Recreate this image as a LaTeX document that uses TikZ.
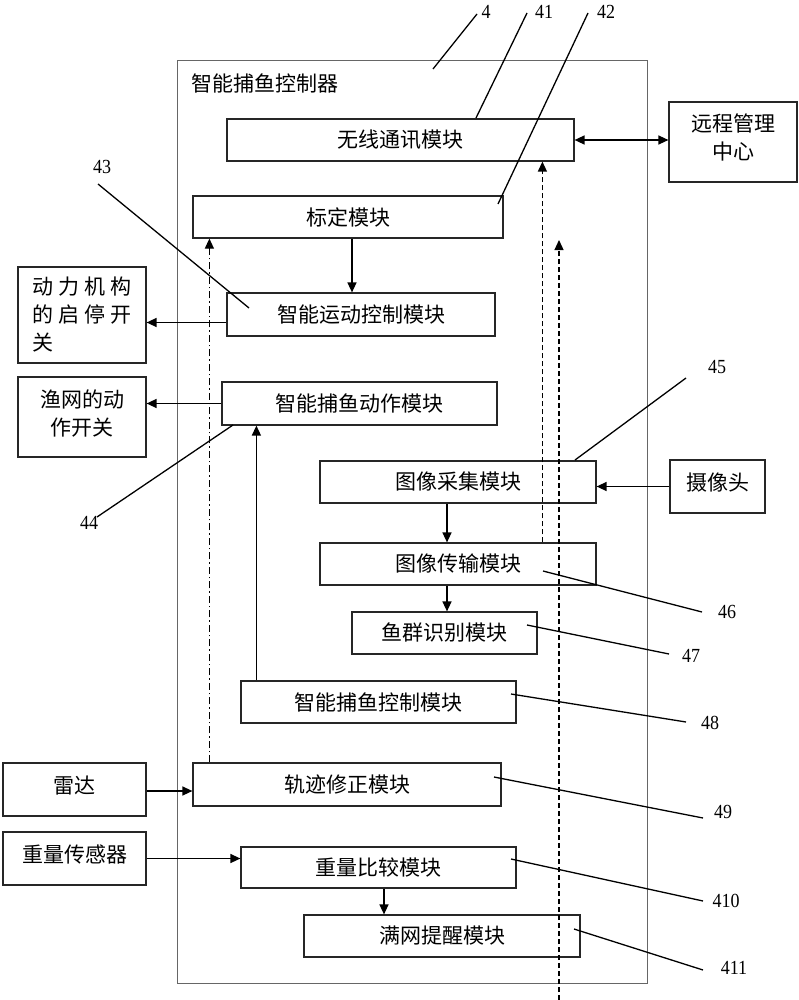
\documentclass[tikz,border=0pt]{standalone}
\usepackage{fontspec}
\setmainfont{Liberation Serif}
\newfontfamily\cjk{Noto Sans CJK SC}
\newfontfamily\numfont[FakeStretch=0.9]{Liberation Serif}
\usetikzlibrary{arrows.meta}
\begin{document}
\begin{tikzpicture}[x=1pt,y=-1pt,
  box/.style={draw=black!85, line width=1.2pt, inner sep=0pt, font=\cjk\fontsize{21}{28}\selectfont, align=center},
  ctrlbox/.style={draw=black!60, line width=1pt, inner sep=0pt},
  arr/.style={line width=1.4pt, -{Triangle[length=10pt,width=9pt]}},
  darr/.style={line width=1.4pt, {Triangle[length=10pt,width=9pt]}-{Triangle[length=10pt,width=9pt]}},
  lead/.style={line width=1.3pt},
  num/.style={font=\numfont\fontsize{20}{22}\selectfont, inner sep=0pt},
  dsh/.style={line width=1.2pt, dash pattern=on 5pt off 3pt},
  dshdot/.style={line width=1.2pt, dash pattern=on 7pt off 3pt on 1.5pt off 3pt},
]
\useasboundingbox (0,0) rectangle (799,1000);

% controller frame
\node[ctrlbox, minimum width=470pt, minimum height=922pt] (ctrl) at (412,522) {};
\node[anchor=west, inner sep=0pt, font=\cjk\fontsize{21}{28}\selectfont] (title) at (191,83) {智能捕鱼控制器};

% boxes
\node[box, minimum width=347pt, minimum height=42pt] (wx) at (400.5,140) {无线通讯模块};
\node[box, minimum width=128pt, minimum height=80pt, text depth=11.5pt] (rc) at (733,142) {远程管理\\中心};
\node[box, minimum width=310pt, minimum height=42pt] (bd) at (348,217) {标定模块};
\node[box, minimum width=268pt, minimum height=43pt] (yd) at (361,314.5) {智能运动控制模块};
\node[box, minimum width=128pt, minimum height=96pt, align=left] (dl) at (82,315)
  {动\hspace{5pt}力\hspace{5pt}机\hspace{5pt}构\\的\hspace{5pt}启\hspace{5pt}停\hspace{5pt}开\\关};
\node[box, minimum width=128pt, minimum height=80pt, text depth=9.5pt] (yw) at (82,417) {渔网的动\\作开关};
\node[box, minimum width=275pt, minimum height=43pt] (dz) at (359.5,403.5) {智能捕鱼动作模块};
\node[box, minimum width=276pt, minimum height=42pt] (cj) at (458,482) {图像采集模块};
\node[box, minimum width=95pt, minimum height=53pt, text depth=10pt] (sxt) at (717.5,486.5) {摄像头};
\node[box, minimum width=276pt, minimum height=42pt] (cs) at (458,564) {图像传输模块};
\node[box, minimum width=185pt, minimum height=42pt] (sb) at (444.5,633) {鱼群识别模块};
\node[box, minimum width=275pt, minimum height=42pt] (kz) at (378.5,702) {智能捕鱼控制模块};
\node[box, minimum width=143pt, minimum height=53pt, text depth=10pt] (ld) at (74.5,789.5) {雷达};
\node[box, minimum width=308pt, minimum height=43pt] (gj) at (347,784.5) {轨迹修正模块};
\node[box, minimum width=143pt, minimum height=53pt, text depth=9pt] (zl) at (74.5,858.5) {重量传感器};
\node[box, minimum width=275pt, minimum height=41pt] (bj) at (378.5,867.5) {重量比较模块};
\node[box, minimum width=276pt, minimum height=42pt] (mw) at (442,936) {满网提醒模块};

% solid connectors
\draw[darr] (wx.east) -- (wx.east -| rc.west);
\draw[arr] ([xshift=4pt]bd.south) -- ([xshift=4pt]bd.south |- yd.north);
\draw[arr] ([yshift=-8pt]yd.west) -- ([yshift=-8pt]yd.west -| dl.east);
\draw[arr] (dz.west) -- (dz.west -| yw.east);
\draw[arr] ([xshift=16pt]kz.north west) -- ([xshift=16pt]kz.north west |- dz.south);
\draw[arr] (sxt.west) -- (sxt.west -| cj.east);
\draw[arr] ([xshift=-11pt]cj.south) -- ([xshift=-11pt]cj.south |- cs.north);
\draw[arr] ([xshift=-11pt]cs.south) -- ([xshift=-11pt]cs.south |- sb.north);
\draw[arr] ([yshift=-1.5pt]ld.east) -- ([yshift=-1.5pt]ld.east -| gj.west);
\draw[arr] (zl.east) -- (zl.east -| bj.west);
\draw[arr] ([xshift=5.5pt]bj.south) -- ([xshift=5.5pt]bj.south |- mw.north);

% dashed connectors
\draw[dshdot, -{Triangle[length=10pt,width=9pt]}] ([xshift=17pt]gj.north west) -- ([xshift=17pt]gj.north west |- bd.south);
\draw[dsh, -{Triangle[length=10pt,width=9pt]}] ([xshift=223pt]cs.north west) -- ([xshift=223pt]cs.north west |- wx.south);
\coordinate (dtb) at (559,1000);
\coordinate (dtt) at (559,240);
\draw[dsh, -{Triangle[length=10pt,width=9pt]}] (dtb) -- (dtt);

% reference numerals
\node[num] (n4) at (486,12) {4};
\node[num] (n41) at (544,12) {41};
\node[num] (n42) at (606,12) {42};
\node[num] (n43) at (102,167) {43};
\node[num] (n44) at (89,523) {44};
\node[num] (n45) at (717,367) {45};
\node[num] (n46) at (727,612) {46};
\node[num] (n47) at (691,656) {47};
\node[num] (n48) at (710,723) {48};
\node[num] (n49) at (723,812) {49};
\node[num] (n410) at (726,901) {410};
\node[num] (n411) at (734,968) {411};

% leader lines
\coordinate (a4) at (433,69);   \coordinate (b4) at (477,14);
\coordinate (a41) at (476,118); \coordinate (b41) at (527,13);
\coordinate (a42) at (498,204); \coordinate (b42) at (588,13);
\coordinate (a43) at (249,308); \coordinate (b43) at (98,184);
\coordinate (a44) at (233,425); \coordinate (b44) at (97,517);
\coordinate (a45) at (575,460); \coordinate (b45) at (686,378);
\coordinate (a46) at (543,571); \coordinate (b46) at (702,612);
\coordinate (a47) at (527,625); \coordinate (b47) at (669,654);
\coordinate (a48) at (511,694); \coordinate (b48) at (686,722);
\coordinate (a49) at (494,777); \coordinate (b49) at (703,818);
\coordinate (a410) at (511,859); \coordinate (b410) at (703,901);
\coordinate (a411) at (574,929); \coordinate (b411) at (703,970);
\foreach \k in {4,41,42,43,44,45,46,47,48,49,410,411}
  \draw[lead] (a\k) -- (b\k);
\end{tikzpicture}
\end{document}
